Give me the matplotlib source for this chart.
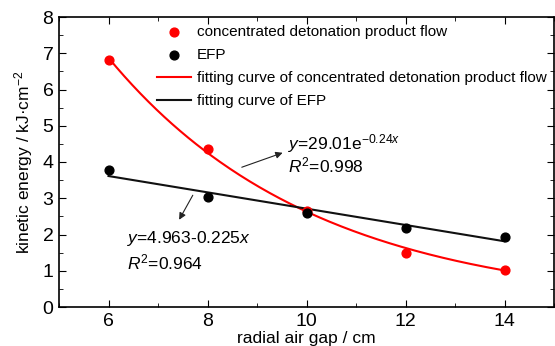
import numpy as np
import matplotlib
matplotlib.use("Agg")
import matplotlib.pyplot as plt
from matplotlib.ticker import MultipleLocator

plt.rcParams['font.family'] = ['Liberation Sans', 'DejaVu Sans']
plt.rcParams['mathtext.fontset'] = 'custom'
plt.rcParams['mathtext.rm'] = 'Liberation Sans'
plt.rcParams['mathtext.it'] = 'Liberation Sans:italic'
plt.rcParams['mathtext.bf'] = 'Liberation Sans:bold'

gap = [6, 8, 10, 12, 14]
flow_energy = [6.82, 4.35, 2.64, 1.50, 1.01]
efp_energy = [3.77, 3.04, 2.58, 2.19, 1.92]
exp_a, exp_b = 29.01, -0.24
lin_a, lin_b = 4.963, -0.225

fig = plt.figure(figsize=(5.55, 3.46), dpi=100)
ax = fig.add_axes([59/555, 1-307/346, (554-59)/555, (307-17)/346])

xs = np.linspace(6, 14, 200)
ax.scatter(gap, flow_energy, color='red', s=40, zorder=3, label='concentrated detonation product flow')
ax.scatter(gap, efp_energy, color='black', s=40, zorder=3, label='EFP')
ax.plot(xs, exp_a*np.exp(exp_b*xs), color='red', lw=1.5, label='fitting curve of concentrated detonation product flow')
ax.plot(xs, lin_a + lin_b*xs, color='#111111', lw=1.5, label='fitting curve of EFP')

ax.set_xlim(5, 15)
ax.set_ylim(0, 8)
ax.xaxis.set_minor_locator(MultipleLocator(1))
ax.yaxis.set_major_locator(MultipleLocator(1))
ax.yaxis.set_minor_locator(MultipleLocator(0.5))
ax.set_xticks([6, 8, 10, 12, 14])
ax.tick_params(axis='both', which='both', direction='in', top=True, right=True, labelsize=14, pad=4)
ax.tick_params(which='major', length=5)
ax.tick_params(which='minor', length=3)
for s in ax.spines.values():
    s.set_linewidth(1.2)

ax.set_xlabel('radial air gap / cm', fontsize=12.5, labelpad=1)
ax.set_ylabel('kinetic energy / kJ·cm$^{-2}$', fontsize=12.5, labelpad=5)

leg = ax.legend(loc='upper right', frameon=False, fontsize=11, handlelength=2.2,
                handletextpad=0.4, labelspacing=0.6, borderaxespad=0.1,
                bbox_to_anchor=(1.0, 1.0), scatterpoints=1)

ax.annotate('', xy=(9.57, 4.28), xytext=(8.64, 3.83),
            arrowprops=dict(arrowstyle='-|>', color='#222222', lw=0.8, mutation_scale=10))
ax.text(9.62, 4.5, '$y$=29.01e$^{-0.24x}$', fontsize=12.5, va='center', ha='left')
ax.text(9.62, 3.9, '$R^2$=0.998', fontsize=12.5, va='center', ha='left')

ax.annotate('', xy=(7.4, 2.34), xytext=(7.73, 3.15),
            arrowprops=dict(arrowstyle='-|>', color='#222222', lw=0.8, mutation_scale=10))
ax.text(6.38, 1.9, '$y$=4.963-0.225$x$', fontsize=12.5, va='center', ha='left')
ax.text(6.38, 1.24, '$R^2$=0.964', fontsize=12.5, va='center', ha='left')

fig.savefig('out.png', dpi=100)
